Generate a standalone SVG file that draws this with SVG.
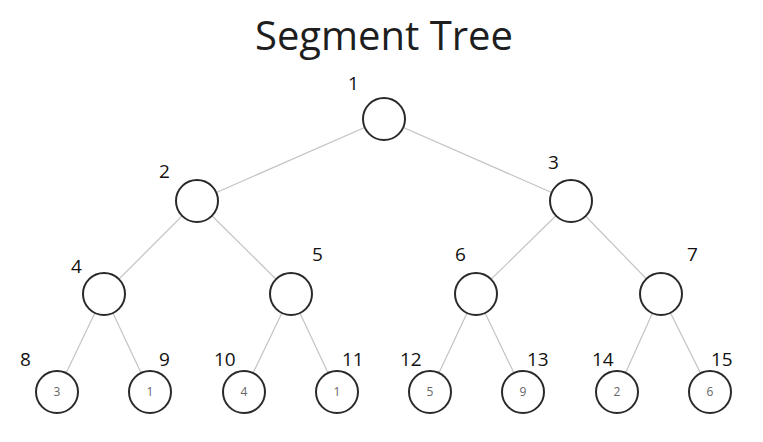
<svg xmlns="http://www.w3.org/2000/svg" width="763" height="442" viewBox="0 0 763 442">
<style>
.e{stroke:#c4c4c4;stroke-width:1.2;fill:none}
.n{fill:#fff;stroke:#2a2a2a;stroke-width:2}
.lbl{font-family:"Open Sans","Noto Sans",sans-serif;font-size:19px;fill:#111}
.v{font-family:"Open Sans","Noto Sans",sans-serif;font-size:12px;fill:#666;text-anchor:middle}
.t{font-family:"Open Sans","Noto Sans",sans-serif;font-size:40px;fill:#1e1e1e;text-anchor:middle}
</style>
<rect width="763" height="442" fill="#fff"/>
<text class="t" x="384" y="50">Segment Tree</text>
<g id="edges">
<line class="e" x1="384" y1="119" x2="197" y2="201"/>
<line class="e" x1="384" y1="119" x2="571" y2="201"/>
<line class="e" x1="197" y1="201" x2="104" y2="294"/>
<line class="e" x1="197" y1="201" x2="291" y2="294"/>
<line class="e" x1="571" y1="201" x2="476" y2="294"/>
<line class="e" x1="571" y1="201" x2="661" y2="294"/>
<line class="e" x1="104" y1="294" x2="57" y2="392"/>
<line class="e" x1="104" y1="294" x2="150" y2="392"/>
<line class="e" x1="291" y1="294" x2="244" y2="392"/>
<line class="e" x1="291" y1="294" x2="337" y2="392"/>
<line class="e" x1="476" y1="294" x2="430" y2="392"/>
<line class="e" x1="476" y1="294" x2="523" y2="392"/>
<line class="e" x1="661" y1="294" x2="617" y2="392"/>
<line class="e" x1="661" y1="294" x2="710" y2="392"/>
</g>
<g id="n1"><circle class="n" cx="384" cy="119" r="21"/><text class="lbl" x="348" y="90">1</text></g>
<g id="n2"><circle class="n" cx="197" cy="201" r="21"/><text class="lbl" x="159" y="178">2</text></g>
<g id="n3"><circle class="n" cx="571" cy="201" r="21"/><text class="lbl" x="548" y="169">3</text></g>
<g id="n4"><circle class="n" cx="104" cy="294" r="21"/><text class="lbl" x="71" y="273">4</text></g>
<g id="n5"><circle class="n" cx="291" cy="294" r="21"/><text class="lbl" x="312" y="261">5</text></g>
<g id="n6"><circle class="n" cx="476" cy="294" r="21"/><text class="lbl" x="455" y="261">6</text></g>
<g id="n7"><circle class="n" cx="661" cy="294" r="21"/><text class="lbl" x="687" y="261">7</text></g>
<g id="n8"><circle class="n" cx="57" cy="392" r="21"/><text class="lbl" x="20" y="366">8</text><text class="v" x="57" y="396">3</text></g>
<g id="n9"><circle class="n" cx="150" cy="392" r="21"/><text class="lbl" x="159" y="366">9</text><text class="v" x="150" y="396">1</text></g>
<g id="n10"><circle class="n" cx="244" cy="392" r="21"/><text class="lbl" x="214" y="366">10</text><text class="v" x="244" y="396">4</text></g>
<g id="n11"><circle class="n" cx="337" cy="392" r="21"/><text class="lbl" x="342" y="366">11</text><text class="v" x="337" y="396">1</text></g>
<g id="n12"><circle class="n" cx="430" cy="392" r="21"/><text class="lbl" x="400" y="366">12</text><text class="v" x="430" y="396">5</text></g>
<g id="n13"><circle class="n" cx="523" cy="392" r="21"/><text class="lbl" x="527" y="366">13</text><text class="v" x="523" y="396">9</text></g>
<g id="n14"><circle class="n" cx="617" cy="392" r="21"/><text class="lbl" x="592" y="366">14</text><text class="v" x="617" y="396">2</text></g>
<g id="n15"><circle class="n" cx="710" cy="392" r="21"/><text class="lbl" x="711" y="366">15</text><text class="v" x="710" y="396">6</text></g>
</svg>
